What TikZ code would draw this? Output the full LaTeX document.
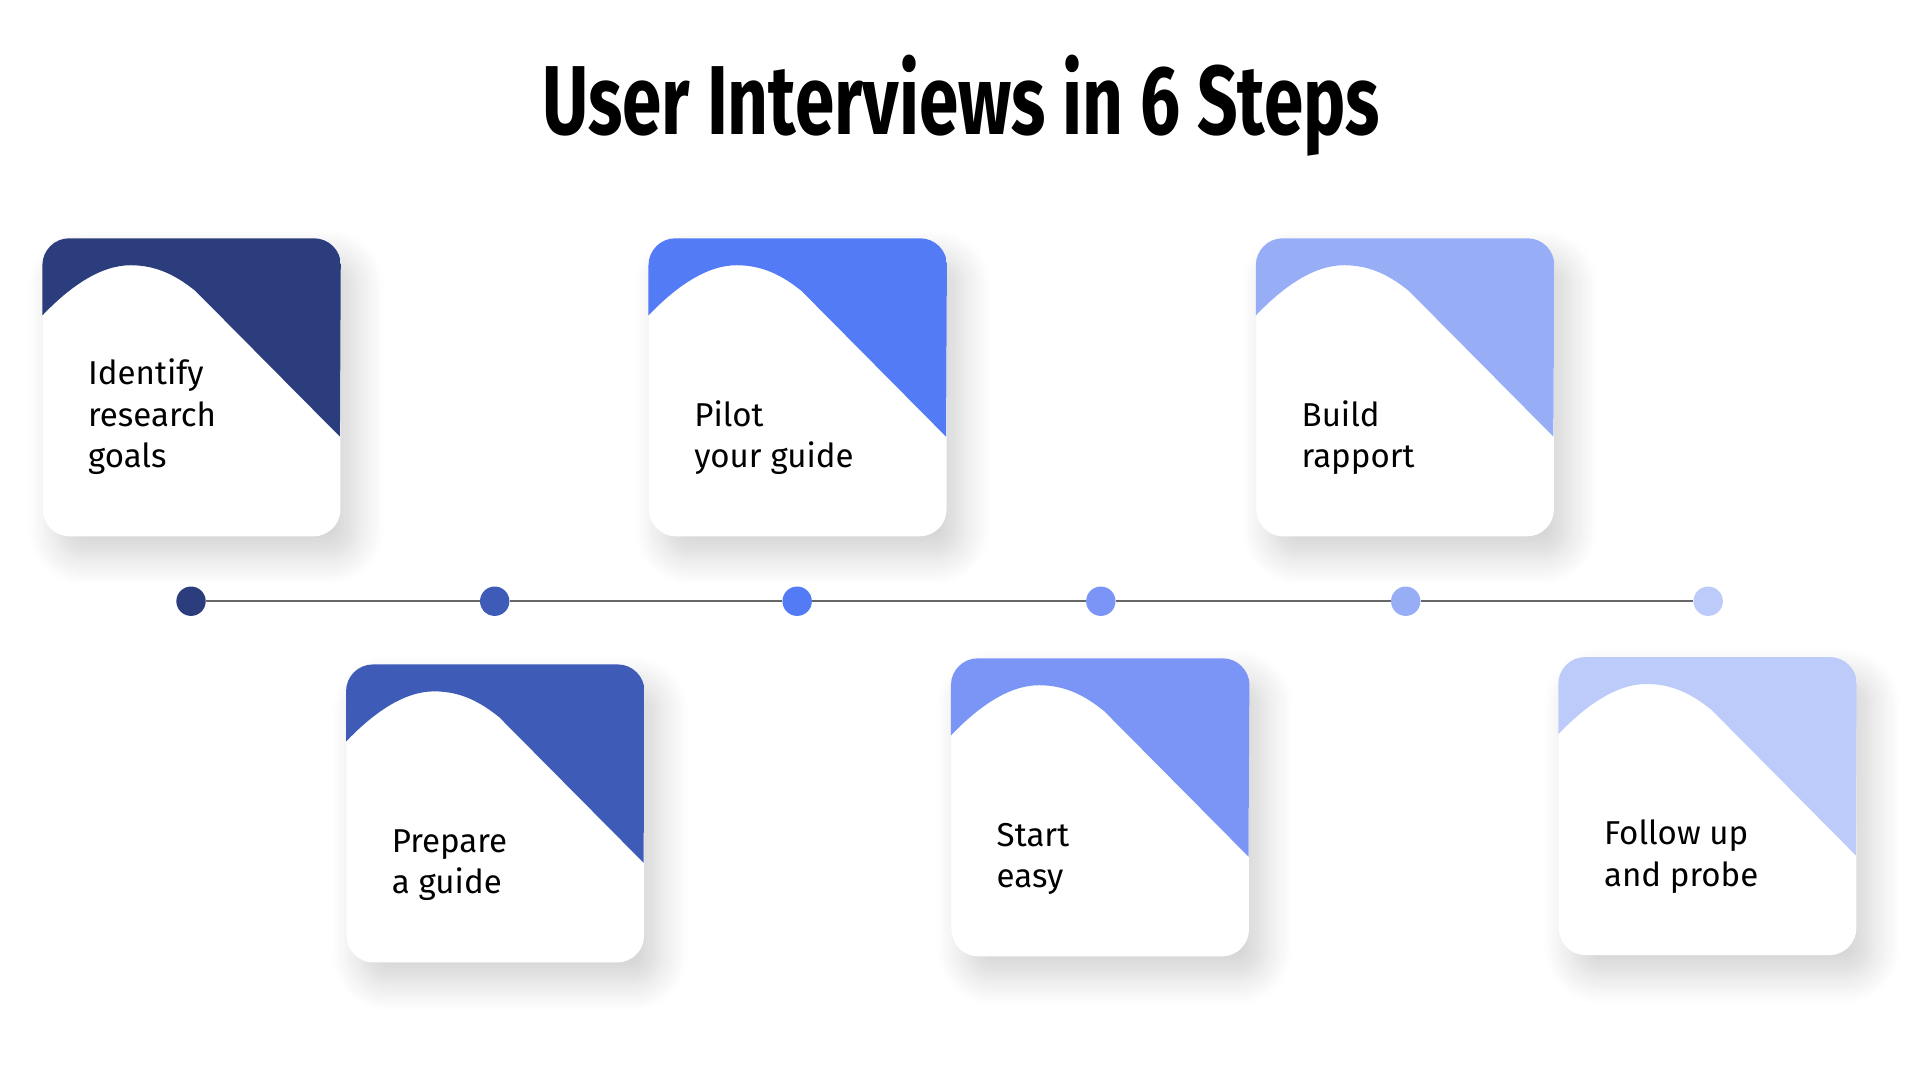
\documentclass[tikz,border=0pt]{standalone}
\usepackage{fontspec}
\setmainfont{Fira Sans}
\usetikzlibrary{calc}
\usetikzlibrary{shadows.blur}
\usetikzlibrary{positioning}

\definecolor{stepA}{HTML}{2B3D7C}
\definecolor{stepB}{HTML}{3F5BB8}
\definecolor{stepC}{HTML}{527BF5}
\definecolor{stepD}{HTML}{7B95F7}
\definecolor{stepE}{HTML}{97AEF7}
\definecolor{stepF}{HTML}{BCCBFA}

\tikzset{
  card/.style={fill=white, rounded corners=11pt, minimum width=121.5pt,
    minimum height=121.5pt, inner sep=0pt,
    blur shadow={shadow xshift=6pt, shadow yshift=-8pt, shadow blur steps=10,
      shadow opacity=18, shadow blur radius=12pt}},
  label/.style={anchor=south west, inner sep=0pt, align=left,
    font=\fontsize{13.5pt}{17pt}\selectfont},
  dot/.style={circle, minimum size=12pt, inner sep=0pt},
  timeline/.style={draw=gray!80!black, line width=0.8pt}
}

% one step card: name, centre, colour, text
\newcommand{\stepcard}[4]{%
  \node[card] (#1) at #2 {};
  \begin{scope}
    \clip[rounded corners=11pt] (#1.south west) rectangle (#1.north east);
    \fill[#3] ($(#1.north west)+(0,63)$)
      .. controls +(22,-23) and +(-25,0) .. ($(#1.north west)+(72,22)$)
      .. controls +(22,0) and +(-15,-12) .. ($(#1.north west)+(125,43)$)
      -- ($(#1.north west)+(243,162)$) -- (#1.north east) -- (#1.north west) -- cycle;
  \end{scope}
  \node[label] (#1-text) at ($(#1.north west)+(37,198)$) {#4};
}

\begin{document}
\begin{tikzpicture}[x=0.5pt, y=-0.5pt]
  \useasboundingbox (0,0) rectangle (1568,882);

  \node (title) at (785,86)
    {\resizebox{342pt}{\height}{\fontsize{40pt}{44pt}\selectfont\bfseries User Interviews in 6 Steps}};

  % timeline
  \node[dot, fill=stepA] (d1) at (156,491) {};
  \node[dot, fill=stepB] (d2) at (404,491) {};
  \node[dot, fill=stepC] (d3) at (651,491) {};
  \node[dot, fill=stepD] (d4) at (899,491) {};
  \node[dot, fill=stepE] (d5) at (1148,491) {};
  \node[dot, fill=stepF] (d6) at (1395,491) {};
  \begin{scope}[on background layer/.style={}]
    \draw[timeline] (d1) -- (d2);
    \draw[timeline] (d2) -- (d3);
    \draw[timeline] (d3) -- (d4);
    \draw[timeline] (d4) -- (d5);
    \draw[timeline] (d5) -- (d6);
  \end{scope}

  % cards
  \stepcard{identify}{(156.5,316.5)}{stepA}{Identify\\research\\goals\strut}
  \stepcard{prepare}{(404.5,664.5)}{stepB}{Prepare\\a guide\strut}
  \stepcard{pilot}{(651.5,316.5)}{stepC}{Pilot\\your guide\strut}
  \stepcard{start}{(898.5,659.5)}{stepD}{Start\\easy\strut}
  \stepcard{rapport}{(1147.5,316.5)}{stepE}{Build\\rapport\strut}
  \stepcard{probe}{(1394.5,658.5)}{stepF}{Follow up\\and probe\strut}
\end{tikzpicture}
\end{document}
